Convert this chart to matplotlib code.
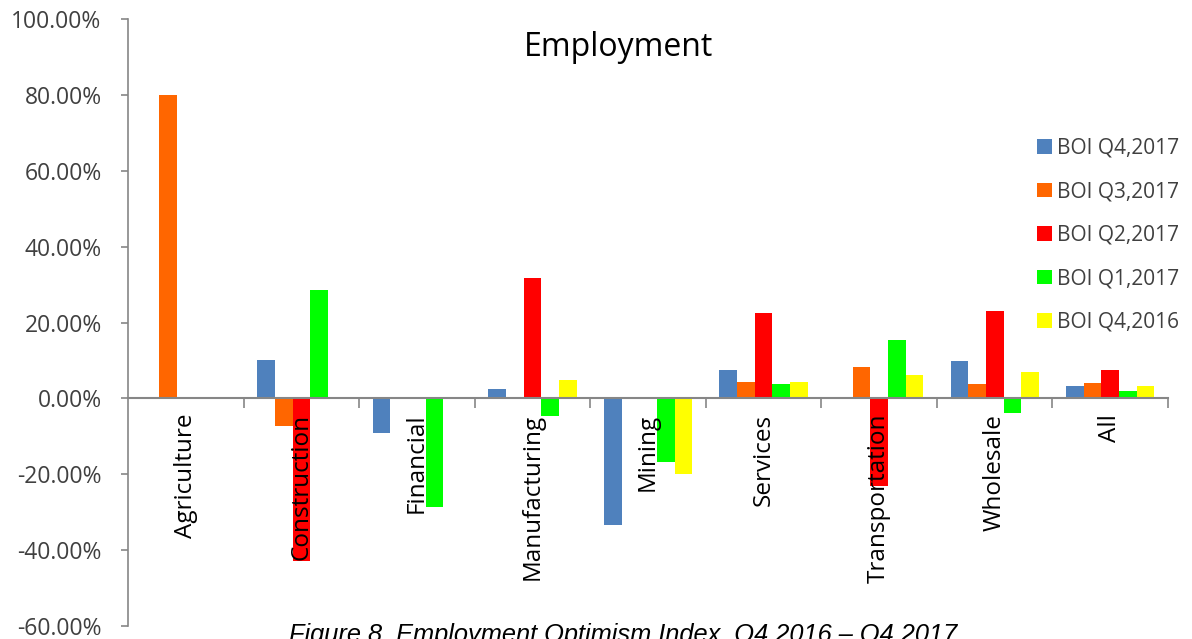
import numpy as np
import matplotlib.pyplot as plt
from matplotlib.ticker import FuncFormatter

sectors = ["Agriculture", "Construction", "Financial", "Manufacturing", "Mining",
           "Services", "Transportation", "Wholesale", "All"]
series = ["BOI Q4,2017", "BOI Q3,2017", "BOI Q2,2017", "BOI Q1,2017", "BOI Q4,2016"]

# index values in percent, one list per survey quarter
q4_2017 = [0.0, 10.0, -9.1, 2.4, -33.3, 7.5, 0.0, 9.9, 3.3]
q3_2017 = [80.0, -7.2, 0.0, 0.0, 0.0, 4.4, 8.4, 3.8, 4.0]
q2_2017 = [0.0, -42.9, 0.0, 31.8, 0.0, 22.6, -23.1, 23.1, 7.5]
q1_2017 = [0.0, 28.6, -28.6, -4.7, -16.7, 3.8, 15.4, -3.8, 1.9]
q4_2016 = [0.0, 0.0, 0.0, 4.8, -20.0, 4.4, 6.2, 7.0, 3.3]
values = [q4_2017, q3_2017, q2_2017, q1_2017, q4_2016]

colors = ["#4F81BD", "#FF6600", "#FF0000", "#00FF00", "#FFFF00"]
font = "Open Sans"
text_col = "#404040"
axis_col = "#868686"

fig = plt.figure(figsize=(11.92, 6.39), dpi=100)
ax = fig.add_axes([0.1074, 0.0203, 0.8725, 0.95])

x = np.arange(len(sectors))
w = 0.153
for k, (name, vals) in enumerate(zip(series, values)):
    ax.bar(x + (k - 2) * w, vals, width=w, color=colors[k], label=name, zorder=2)

ax.set_xlim(-0.5, len(sectors) - 0.5)
ax.set_ylim(-60, 100)
ax.set_yticks(np.arange(-60, 101, 20))
ax.yaxis.set_major_formatter(FuncFormatter(lambda v, p: "%.2f%%" % v))
for lab in ax.get_yticklabels():
    lab.set_fontfamily(font)
    lab.set_fontsize(16.5)
    lab.set_color(text_col)
ax.tick_params(axis="y", length=5, width=1.2, color=axis_col, pad=14)

# horizontal axis sits on the zero line, ticks between categories
ax.spines["bottom"].set_position(("data", 0))
ax.spines["bottom"].set_color(axis_col)
ax.spines["bottom"].set_linewidth(1.5)
ax.spines["left"].set_color(axis_col)
ax.spines["left"].set_linewidth(1.2)
ax.spines["top"].set_visible(False)
ax.spines["right"].set_visible(False)
ax.set_xticks(np.arange(0.5, len(sectors), 1.0))
ax.set_xticklabels([])
ax.tick_params(axis="x", length=7, width=1.2, color=axis_col, direction="out")

for i, s in enumerate(sectors):
    ax.annotate(s, (i, 0), xytext=(0, -11), textcoords="offset points",
                rotation=90, ha="center", va="top", fontsize=17.5,
                family=font, color="black", zorder=5)

fig.text(0.5185, 0.926, "Employment", ha="center", va="center", fontsize=23,
         family=font, color="black")

leg = ax.legend(loc="upper left", bbox_to_anchor=(0.856, 0.835), frameon=False,
                prop={"family": font, "size": 15}, handlelength=0.7,
                handleheight=0.7, handletextpad=0.25, labelspacing=1.08)
for t in leg.get_texts():
    t.set_color(text_col)

fig.text(0.523, -0.012, "Figure 8. Employment Optimism Index, Q4 2016 \u2013 Q4 2017",
         ha="center", va="bottom", fontsize=18.3, style="italic",
         family="Liberation Sans", color="black")

fig.savefig("out.png", dpi=100)
